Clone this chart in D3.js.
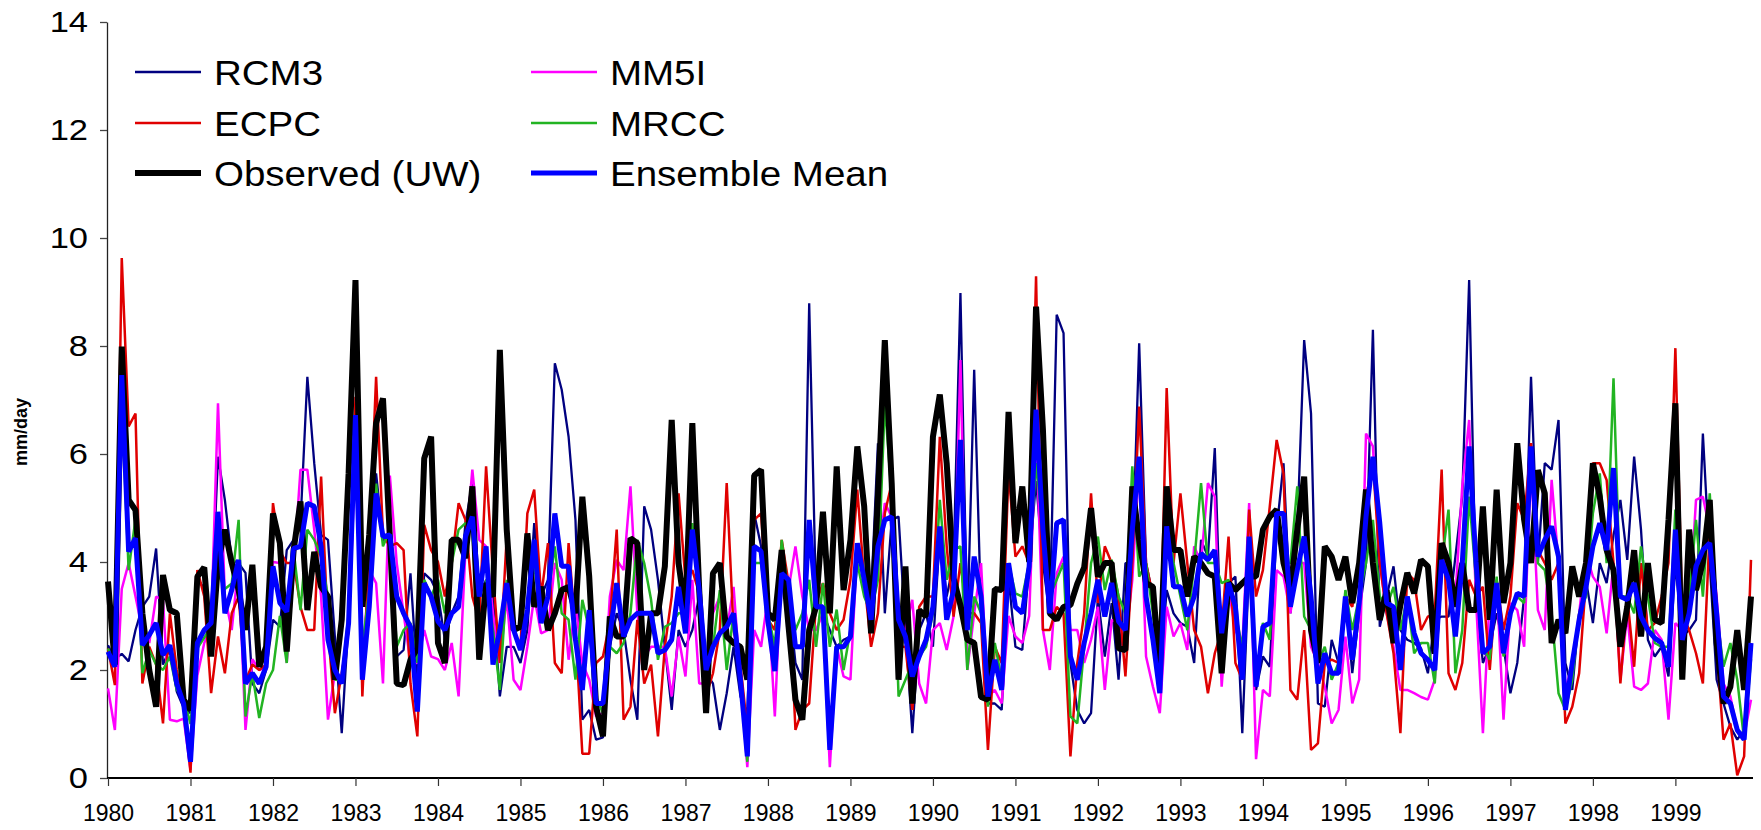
<!DOCTYPE html>
<html>
<head>
<meta charset="utf-8">
<script src="https://cdn.jsdelivr.net/npm/d3@7"></script>
<style>
  body { margin: 0; background: #fff; }
  svg { display: block; font-family: "Liberation Sans", Arial, sans-serif; }
</style>
</head>
<body>
<svg id="chart" width="1761" height="830"></svg>
<script>
// monthly precipitation, Jan 1980 .. Dec 1999 (one row per year)
const years = ['1980','1981','1982','1983','1984','1985','1986','1987','1988','1989',
               '1990','1991','1992','1993','1994','1995','1996','1997','1998','1999'];

const rcm3 = [
  2.46,2.2,2.3,2.16,2.74,3.17,3.36,4.25,2.1,2.4,1.6,1.3,
  1.2,3.7,3.5,3.0,5.95,5.15,4.04,3.98,3.8,1.75,1.57,2.0,
  2.93,2.8,4.22,4.41,4.72,7.43,5.83,4.5,4.41,2.62,0.83,2.93,
  6.4,3.17,3.98,5.64,4.41,4.41,2.25,2.37,3.79,1.82,3.79,3.67,
  3.4,2.56,3.05,3.36,4.72,5.46,3.36,3.67,3.36,1.51,2.43,2.43,
  2.13,2.74,4.72,3.36,3.67,7.68,7.19,6.32,4.78,1.08,1.26,0.71,
  0.75,2.43,3.05,2.74,1.82,1.08,5.03,4.6,3.67,2.43,1.26,2.74,
  2.43,2.74,3.36,1.94,1.75,0.89,1.57,2.43,1.51,1.2,4.9,4.29,
  3.05,2.13,3.98,3.36,2.13,1.82,8.79,3.24,3.05,2.74,2.43,2.56,
  2.62,4.29,3.67,3.36,6.2,3.05,4.78,4.84,2.74,0.83,2.74,3.05,
  2.43,4.5,3.36,3.98,8.98,2.74,7.56,3.05,1.38,1.38,1.26,3.7,
  2.43,2.37,3.98,5.5,3.98,3.0,8.58,8.24,2.13,1.26,1.01,1.2,
  3.36,2.25,3.24,1.82,3.98,3.98,8.05,3.98,3.36,1.88,3.48,3.05,
  2.87,2.8,2.13,4.41,4.1,6.11,2.13,3.61,3.73,0.83,3.98,1.63,
  2.25,2.06,4.6,5.83,3.05,4.6,8.11,6.75,1.38,1.32,2.56,2.13,
  3.36,1.94,3.05,3.98,8.3,2.8,3.36,3.92,2.74,2.56,2.5,2.4,
  1.94,2.93,2.99,2.99,4.1,5.21,9.22,3.36,2.13,2.43,3.05,2.43,
  1.57,2.13,3.36,7.43,3.98,5.83,5.71,6.63,2.13,1.63,3.05,3.67,
  2.87,3.98,3.61,4.5,5.15,4.04,5.95,4.6,2.56,2.25,2.43,1.88,
  3.98,2.62,2.74,2.93,6.38,3.98,1.82,1.38,0.95,0.71,0.89,2.43
];

const mm5i = [
  1.66,0.89,3.5,3.98,3.36,2.74,2.5,3.36,3.3,1.08,1.05,1.1,
  0.15,1.9,2.5,2.8,6.94,3.36,2.74,3.98,0.89,2.2,2.0,2.06,
  4.0,3.98,2.13,3.85,5.71,5.71,4.6,3.36,1.08,1.94,1.82,2.74,
  6.0,2.1,3.85,3.61,1.75,5.6,3.98,3.05,2.13,2.13,2.74,2.25,
  2.2,2.0,2.5,1.51,4.22,5.71,4.41,4.29,3.05,2.13,3.36,1.82,
  1.63,2.43,3.36,2.68,2.74,3.98,3.67,2.19,3.24,2.13,1.82,1.14,
  1.2,3.36,4.04,3.85,5.4,3.05,2.25,2.43,2.43,2.43,1.51,2.62,
  1.88,3.67,1.75,1.75,3.05,3.36,2.74,3.54,1.82,0.2,2.74,2.43,
  3.36,1.14,3.98,3.5,4.29,3.36,2.74,2.74,3.05,0.2,2.43,1.88,
  1.82,4.29,3.67,3.05,3.98,5.09,4.84,3.05,2.74,3.3,1.75,1.38,
  2.74,2.87,2.37,2.99,7.74,2.0,3.05,3.98,1.5,1.63,1.38,3.0,
  2.62,2.5,3.0,6.45,2.74,2.0,3.79,4.1,2.74,2.74,2.13,2.56,
  3.17,1.63,2.93,2.87,2.5,3.67,5.83,2.25,1.69,1.2,3.17,2.62,
  2.87,2.37,4.29,3.98,5.46,5.21,1.69,3.5,2.74,2.43,5.09,0.35,
  1.63,1.51,3.85,3.73,3.05,3.98,3.98,2.43,2.13,1.69,1.01,1.26,
  2.62,1.38,1.82,6.38,6.14,3.98,3.05,2.43,1.63,1.63,1.57,1.5,
  1.45,1.82,3.98,3.67,3.36,5.4,6.63,3.3,0.83,3.36,3.61,1.08,
  3.24,3.11,2.43,5.83,3.11,2.74,5.52,3.98,1.63,2.13,3.05,4.16,
  3.73,3.54,2.68,3.98,1.82,3.05,1.69,1.63,1.75,2.74,2.56,1.08,
  2.87,2.74,3.05,5.15,5.21,4.6,3.36,1.75,1.51,0.89,0.77,1.45
];

const ecpc = [
  2.4,1.72,9.63,6.51,6.75,1.75,2.43,2.1,1.01,3.05,2.0,1.4,
  0.1,3.85,3.36,1.57,2.62,1.94,3.05,3.36,1.8,2.1,2.0,2.1,
  5.09,4.2,3.98,3.98,3.17,2.74,2.74,5.58,2.74,1.2,1.94,2.74,
  7.06,1.51,4.29,7.43,4.5,4.29,4.35,4.22,1.75,0.77,4.69,4.22,
  4.0,3.36,3.98,5.09,4.78,3.36,2.9,5.77,3.79,2.13,4.47,2.74,
  2.43,4.9,5.34,3.36,4.35,2.13,1.94,4.35,2.74,0.45,0.45,2.13,
  2.25,2.9,4.6,1.08,1.32,2.93,1.75,2.1,0.77,2.43,3.36,5.27,
  3.67,3.85,3.42,1.51,1.94,2.74,5.46,2.74,2.1,0.9,4.78,4.9,
  2.93,2.74,4.41,3.61,0.89,1.26,1.38,3.24,3.61,3.05,2.74,2.93,
  3.67,5.34,3.67,2.43,3.05,4.9,5.46,2.43,2.43,1.26,3.17,3.36,
  3.36,6.32,4.29,2.99,3.98,3.05,3.05,2.87,0.52,2.43,2.13,5.7,
  4.1,4.29,3.98,9.29,2.74,2.74,3.17,3.05,0.4,2.13,3.05,5.27,
  3.24,4.29,3.98,3.36,1.88,3.98,6.88,3.98,3.36,1.94,7.22,3.98,
  5.27,3.98,2.74,2.43,1.57,2.31,2.74,4.47,2.13,1.82,4.97,3.36,
  3.85,5.03,6.26,5.64,1.63,1.45,2.74,0.52,0.64,2.13,2.19,2.13,
  3.36,3.17,3.98,5.21,5.83,3.98,3.05,2.31,0.83,3.79,3.67,2.74,
  2.99,3.05,5.71,1.94,1.63,2.13,3.67,3.36,3.54,2.0,3.67,2.74,
  3.36,5.09,4.78,6.2,4.22,3.98,3.67,3.98,1.01,1.32,1.94,3.67,
  5.83,5.83,5.52,3.98,1.75,3.36,2.06,3.98,2.74,2.87,3.36,3.98,
  7.96,3.05,2.74,2.31,1.75,4.6,2.4,0.71,1.01,0.05,0.4,4.04
];

const mrcc = [
  2.4,2.1,7.0,3.85,4.8,1.94,2.37,2.1,2.0,2.25,1.63,1.5,
  1.0,2.4,2.6,2.8,3.8,3.5,3.6,4.78,1.14,1.94,1.11,1.75,
  2.0,3.0,2.13,4.22,3.11,4.6,4.41,4.1,3.36,1.82,1.82,3.05,
  6.5,2.43,3.48,5.45,4.29,4.6,2.43,2.74,2.87,2.13,3.67,3.36,
  3.67,3.05,3.98,4.6,4.72,4.6,2.19,3.67,2.74,1.63,3.67,2.74,
  2.37,3.05,3.98,2.87,3.36,4.29,3.05,2.93,1.82,3.3,2.74,1.5,
  1.2,2.43,2.31,2.5,3.05,4.41,3.98,3.3,2.19,2.8,2.87,3.05,
  3.05,4.72,3.36,2.13,2.43,3.48,2.0,3.05,1.82,0.3,3.98,3.98,
  3.05,2.43,4.41,3.36,2.74,3.05,3.67,2.43,3.61,2.43,3.12,2.0,
  2.74,3.98,3.36,3.05,3.67,6.94,5.21,1.51,1.82,2.13,2.25,2.43,
  3.05,5.15,3.67,4.22,4.29,2.0,3.36,3.05,1.32,2.5,1.82,3.98,
  3.42,3.36,3.98,5.83,4.6,3.36,3.67,3.98,1.14,1.01,2.43,3.98,
  4.47,3.48,4.04,3.36,3.05,5.77,3.73,3.98,3.05,1.82,4.9,3.98,
  3.36,2.74,3.98,5.46,3.98,3.98,3.61,3.67,3.05,2.43,3.98,1.82,
  2.87,2.56,4.84,3.98,3.98,5.4,2.99,2.74,2.13,2.43,1.82,2.13,
  3.48,2.74,3.36,3.98,4.78,3.36,3.17,3.54,2.74,3.36,2.31,2.5,
  2.5,1.75,3.98,4.97,1.94,2.74,5.21,3.67,2.43,2.19,3.73,2.25,
  3.05,3.36,3.24,5.83,3.98,3.85,3.05,1.57,1.26,1.82,3.05,3.36,
  4.9,5.64,3.98,7.4,3.36,3.36,3.05,4.29,3.36,2.5,2.43,2.43,
  4.97,2.74,3.36,4.78,3.36,5.27,3.05,2.06,2.5,1.82,0.7,2.2
];

const observed = [
  3.64,2.1,7.99,5.15,4.96,3.05,2.0,1.32,3.76,3.11,3.05,1.45,
  1.26,3.73,3.9,2.25,3.98,4.6,3.98,3.48,2.74,3.95,2.06,2.43,
  4.9,4.35,2.34,4.22,5.12,3.11,4.19,3.54,3.36,1.82,2.93,5.64,
  9.22,3.17,4.5,6.57,7.03,4.47,1.75,1.72,2.19,2.4,5.92,6.32,
  2.5,2.13,4.41,4.41,4.07,5.4,2.19,3.61,3.36,7.93,4.6,2.74,
  2.8,4.53,3.17,3.54,2.74,3.05,3.48,3.54,3.05,5.21,3.73,1.32,
  0.77,2.99,2.62,2.62,4.44,4.35,2.0,3.05,3.05,3.92,6.63,3.98,
  3.05,6.57,3.48,1.2,3.79,3.98,2.62,2.5,2.43,1.82,5.6,5.71,
  3.05,2.93,4.22,2.8,1.45,1.08,2.74,3.17,4.93,3.05,5.77,3.48,
  4.41,6.14,5.03,2.68,5.21,8.11,5.46,1.82,3.92,1.38,3.11,2.99,
  6.32,7.1,5.83,3.7,3.2,2.56,2.5,1.5,1.45,3.5,3.48,6.78,
  4.35,5.4,4.0,8.73,6.45,3.05,2.93,3.17,3.2,3.6,3.9,5.0,
  3.73,3.98,3.98,2.4,2.37,5.4,4.41,3.61,3.54,1.94,5.4,4.22,
  4.22,3.36,4.1,3.98,3.79,3.73,1.94,3.61,3.48,3.61,3.73,3.73,
  4.6,4.84,4.97,3.98,3.48,4.6,5.58,2.74,2.13,4.29,4.1,3.67,
  4.1,3.24,3.98,5.34,3.98,2.93,3.48,2.5,3.2,3.8,3.42,4.04,
  3.92,2.3,4.35,3.98,3.17,3.98,3.11,3.11,5.03,2.93,5.34,3.24,
  3.98,6.2,4.78,3.98,5.7,5.27,2.5,2.93,2.68,3.92,3.36,3.98,
  5.83,5.21,4.22,3.85,2.43,3.17,4.22,2.62,3.98,2.93,2.87,4.78,
  6.94,1.82,4.6,3.48,4.0,5.15,2.5,1.38,1.69,2.74,1.63,3.36
];

const ensemble = [
  2.34,2.06,7.46,4.19,4.44,2.46,2.65,2.87,2.28,2.46,1.75,1.38,
  0.3,2.5,2.74,2.87,4.93,3.05,3.48,4.04,1.75,1.94,1.75,2.06,
  3.92,3.24,3.08,4.25,4.29,5.09,5.03,4.29,2.56,2.0,1.75,2.87,
  6.72,1.82,3.17,5.27,4.47,4.5,3.36,3.05,2.8,1.23,3.61,3.36,
  2.9,2.74,3.05,3.17,4.47,4.84,3.36,4.29,2.1,2.74,3.61,2.74,
  2.37,3.11,4.41,2.87,3.36,4.9,3.92,3.92,2.56,1.63,3.11,1.38,
  1.38,2.62,3.61,2.62,2.93,3.05,3.05,3.05,2.31,2.37,2.56,3.54,
  2.68,4.6,3.48,2.0,2.43,2.68,2.8,3.05,1.82,0.4,4.29,4.2,
  2.9,1.98,3.79,3.67,2.43,2.43,4.78,3.17,3.17,0.52,2.43,2.43,
  2.62,4.35,3.67,2.93,4.29,4.78,4.84,2.93,2.62,1.88,2.25,2.56,
  3.17,4.66,2.93,3.48,6.26,2.74,4.1,3.36,1.51,2.19,1.63,3.98,
  3.17,3.05,3.92,6.82,4.6,3.05,4.72,4.78,2.25,1.82,2.5,3.05,
  3.67,2.99,3.61,2.9,2.74,4.6,5.95,3.36,2.56,1.57,4.66,3.54,
  3.54,2.99,3.36,4.16,4.04,4.22,2.68,3.61,3.17,1.82,4.47,1.69,
  2.8,2.87,4.9,4.9,3.17,3.85,4.47,3.36,1.75,2.31,1.94,1.94,
  3.36,2.19,3.24,4.84,5.95,4.72,3.24,3.17,2.0,3.36,2.68,2.31,
  2.19,2.0,4.04,3.67,2.62,3.98,6.14,4.0,2.31,2.43,3.61,2.31,
  3.05,3.42,3.36,6.14,4.1,4.41,4.66,4.1,1.26,2.13,2.93,3.54,
  4.29,4.72,4.22,5.74,3.36,3.3,3.61,2.99,2.74,2.59,2.5,2.06,
  4.6,2.56,3.05,3.92,4.22,4.35,3.05,1.51,1.38,0.89,0.71,2.5
];

// drawing order = legend order, ensemble mean ends up on top
const series = [
  { name: 'RCM3',          values: rcm3,     color: '#000080', width: 2.3, col: 0, row: 0 },
  { name: 'MM5I',          values: mm5i,     color: '#ff00ff', width: 2.5, col: 1, row: 0 },
  { name: 'ECPC',          values: ecpc,     color: '#e00000', width: 2.5, col: 0, row: 1 },
  { name: 'MRCC',          values: mrcc,     color: '#22b422', width: 2.5, col: 1, row: 1 },
  { name: 'Observed (UW)', values: observed, color: '#000000', width: 6,   col: 0, row: 2 },
  { name: 'Ensemble Mean', values: ensemble, color: '#0000ff', width: 5,   col: 1, row: 2 }
];

const svg = d3.select('#chart');

const x = d3.scaleLinear().domain([0, 239]).range([108, 1751]);
const y = d3.scaleLinear().domain([0, 14]).range([778, 22]);

// y axis
const yAxis = svg.append('g')
  .attr('transform', 'translate(107,0)')
  .call(d3.axisLeft(y).tickValues(d3.range(0, 15, 2)).tickSize(7).tickSizeOuter(0).tickPadding(12));
yAxis.select('.domain').attr('stroke', '#222').attr('stroke-width', 1.3);
yAxis.selectAll('.tick line').attr('stroke', '#444').attr('stroke-width', 1.3);
yAxis.selectAll('.tick text')
  .attr('font-size', 30)
  .attr('fill', '#000')
  .attr('x', -19 / 1.15)
  .attr('transform', 'scale(1.15,1)');

// x axis, one tick per January
const xAxis = svg.append('g')
  .attr('transform', 'translate(0,778)')
  .call(d3.axisBottom(x)
    .tickValues(d3.range(0, 240, 12))
    .tickFormat(i => years[i / 12])
    .tickSize(8).tickSizeOuter(0).tickPadding(19));
xAxis.select('.domain').attr('stroke', '#000').attr('stroke-width', 1.8)
  .attr('d', `M107,0H1753`);
xAxis.selectAll('.tick line').attr('stroke', '#333').attr('stroke-width', 1.2);
xAxis.selectAll('.tick text').attr('font-size', 23).attr('fill', '#000');

// axis title
svg.append('text')
  .attr('transform', 'translate(27,432) rotate(-90)')
  .attr('text-anchor', 'middle')
  .attr('font-size', 18)
  .attr('font-weight', 'bold')
  .text('mm/day');

// lines
const line = d3.line()
  .x((d, i) => x(i))
  .y(d => y(d));

svg.append('g').selectAll('path')
  .data(series)
  .join('path')
  .attr('fill', 'none')
  .attr('stroke', d => d.color)
  .attr('stroke-width', d => d.width)
  .attr('stroke-linejoin', 'bevel')
  .attr('d', d => line(d.values));

// legend
const legendX = [135, 531];
const legendY = [72, 123, 173];
const legend = svg.append('g').selectAll('g')
  .data(series)
  .join('g')
  .attr('transform', d => `translate(${legendX[d.col]},${legendY[d.row]})`);

legend.append('line')
  .attr('x1', 0).attr('x2', 66)
  .attr('stroke', d => d.color)
  .attr('stroke-width', d => d.width);

legend.append('text')
  .attr('transform', 'translate(79,0) scale(1.1,1)')
  .attr('dy', '0.36em')
  .attr('font-size', 35)
  .text(d => d.name);
</script>
</body>
</html>
